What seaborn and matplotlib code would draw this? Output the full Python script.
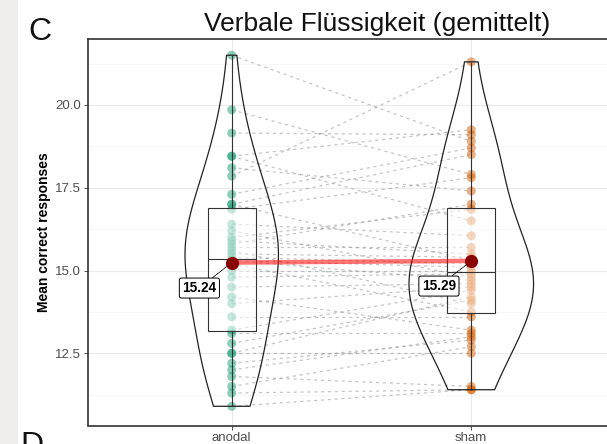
import numpy as np
import pandas as pd
import matplotlib
matplotlib.use("Agg")
import matplotlib.pyplot as plt
from matplotlib.patches import Rectangle
from matplotlib.ticker import FormatStrFormatter, FixedLocator
import seaborn as sns

# ---- data (paired: same index = same subject) ----
conditions = ["anodal", "sham"]
anodal = [21.5, 19.85, 19.15, 18.45, 18.45, 18.1, 17.85, 17.3, 17.0, 17.0,
          16.85, 16.4, 16.2, 16.0, 15.9, 15.8, 15.7, 15.6, 15.5, 15.4,
          15.3, 15.3, 15.2, 15.0, 14.8, 14.5, 14.2, 14.0, 13.6, 13.2,
          13.1, 12.8, 12.5, 12.5, 12.2, 12.0, 11.8, 11.5, 11.3, 10.9]
sham = [18.9, 17.9, 19.1, 19.25, 16.5, 17.4, 21.3, 18.7, 18.5, 15.3,
        17.8, 16.05, 14.8, 16.85, 15.5, 17.0, 15.7, 14.0, 15.4, 15.2,
        14.7, 15.1, 13.75, 15.0, 14.9, 14.6, 13.2, 14.5, 13.6, 14.4,
        13.1, 14.1, 14.2, 12.5, 12.9, 13.0, 11.5, 12.7, 11.4, 11.4]
mean_values = [15.24, 15.29]
y_ticks = [12.5, 15.0, 17.5, 20.0]
title = "Verbale Flüssigkeit (gemittelt)"
y_label = "Mean correct responses"
point_colors = ["#1B9E77", "#D95F02"]
violin_widths = [0.39, 0.52]

n = len(anodal)
df = pd.DataFrame({
    "id": list(range(n)) * 2,
    "condition": [conditions[0]] * n + [conditions[1]] * n,
    "value": anodal + sham,
})
means_df = pd.DataFrame({"condition": conditions, "mean": mean_values})

FONT = "Liberation Sans"
W, H = 607, 444
fig = plt.figure(figsize=(W / 100, H / 100), dpi=100)
fig.patch.set_facecolor("white")
fig.patches.append(Rectangle((0, 0), 18 / W, 1, transform=fig.transFigure,
                             facecolor="#efeeec", edgecolor="none", zorder=-5))

ax_l, ax_r, ax_t, ax_b = 88, 615, 39, 425.5
ax = fig.add_axes([ax_l / W, 1 - ax_b / H, (ax_r - ax_l) / W, (ax_b - ax_t) / H])
ax.set_facecolor("white")

# paired dashed lines
sns.lineplot(data=df, x="condition", y="value", units="id", estimator=None,
             color="grey", alpha=0.45, linewidth=0.9, linestyle=(0, (2.5, 3)),
             ax=ax, zorder=2, legend=False)

# points
sns.stripplot(data=df, x="condition", y="value", hue="condition",
              palette=point_colors, order=conditions, jitter=False,
              size=6.5, alpha=0.5, linewidth=0, ax=ax, zorder=3, legend=False)

# boxplot
sns.boxplot(data=df, x="condition", y="value", order=conditions, width=0.2,
            color="white", linecolor="#333333", linewidth=0.8,
            showcaps=False, showfliers=False,
            boxprops={"facecolor": (1, 1, 1, 0.5)}, ax=ax, zorder=4)

# violins (one per condition, each with its own drawn width)
for cond, vw in zip(conditions, violin_widths):
    sns.violinplot(data=df[df["condition"] == cond], x="condition", y="value",
                   order=conditions, cut=0, inner=None, fill=False,
                   color="#222222", linewidth=0.9, width=vw,
                   density_norm="width", bw_adjust=1.25, ax=ax, zorder=5)

# centrality path and points
sns.lineplot(data=means_df, x="condition", y="mean", color="red", alpha=0.55,
             linewidth=3.2, ax=ax, zorder=6, legend=False)
sns.scatterplot(data=means_df, x="condition", y="mean", color="darkred",
                s=90, linewidth=0, ax=ax, zorder=7, legend=False)

# labels
label_offsets = [(-0.135, -0.77), (-0.135, -0.76)]
for i, (c, m) in enumerate(zip(conditions, mean_values)):
    dx, dy = label_offsets[i]
    ax.annotate(f"{m:.2f}", xy=(i, m), xytext=(i + dx, m + dy),
                ha="center", va="center", fontsize=9.8, fontweight="bold",
                family=FONT, zorder=8,
                bbox=dict(boxstyle="round,pad=0.22,rounding_size=0.15",
                          facecolor="white", edgecolor="black", linewidth=0.7),
                arrowprops=dict(arrowstyle="-", color="black", linewidth=0.6,
                                linestyle=(0, (3, 1, 1, 1)),
                                shrinkA=0, shrinkB=4))

ax.set_xlim(-0.6, 1.6)
ax.set_ylim(10.32, 21.99)
ax.yaxis.set_major_locator(FixedLocator(y_ticks))
ax.yaxis.set_major_formatter(FormatStrFormatter("%.1f"))
minor = [(a + b) / 2 for a, b in zip([10.0] + y_ticks, y_ticks + [22.5])]
ax.yaxis.set_minor_locator(FixedLocator(minor))
ax.set_axisbelow(True)
ax.grid(True, which="major", color="#ebebeb", linewidth=0.8)
ax.grid(True, which="minor", axis="y", color="#f4f4f4", linewidth=0.5)
ax.tick_params(axis="y", which="minor", length=0)
ax.tick_params(axis="both", which="major", length=3, width=0.6,
               color="#333333", labelcolor="#4d4d4d", labelsize=9.5, pad=2)
for lab in ax.get_xticklabels() + ax.get_yticklabels():
    lab.set_family(FONT)
for s in ax.spines.values():
    s.set_color("#333333")
    s.set_linewidth(1.2)
ax.set_xlabel("")
ax.set_ylabel(y_label, fontsize=10, fontweight="bold", family=FONT,
              labelpad=3)

fig.text(204 / W, 1 - 30.7 / H, title, ha="left", va="baseline",
         fontsize=19, family=FONT, color="#111111")
fig.text(28 / W, 1 - 40 / H, "C", ha="left", va="baseline",
         fontsize=23, family=FONT, color="#111111")
fig.text(20 / W, 1 - 454 / H, "D", ha="left", va="baseline",
         fontsize=23, family=FONT, color="#111111")

fig.savefig("out.png", dpi=100)
